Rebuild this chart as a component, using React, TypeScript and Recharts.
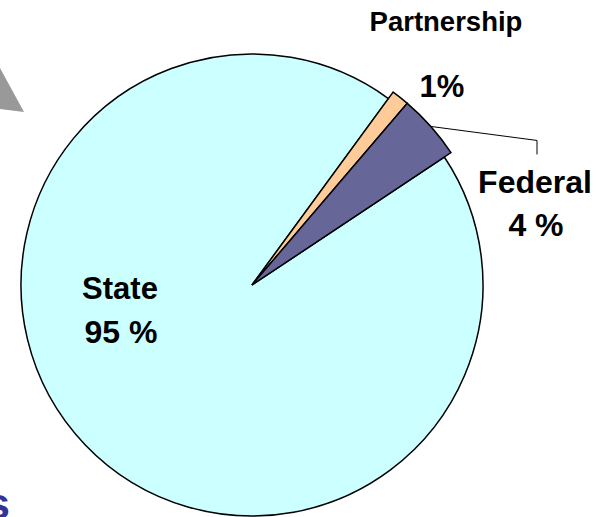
import React from 'react';
import { PieChart, Pie, Cell } from 'recharts';

const categories = ['Partnership', 'Federal', 'State'];
const shares = [1.2, 4.4, 94.4];
const percentLabels = ['1%', '4 %', '95 %'];
const colors = ['#FFCC99', '#666699', '#CCFFFF'];

const data = categories.map((name, i) => ({ name, value: shares[i], pct: percentLabels[i] }));

const FONT = '"Liberation Sans", Arial, Helvetica, sans-serif';

type Layout = { nx: number; ny: number; ns: number; px: number; py: number; ps: number; leader?: boolean };
const layout: Record<string, Layout> = {
  Partnership: { nx: 446, ny: 31, ns: 27.5, px: 442, py: 97, ps: 31 },
  Federal: { nx: 535, ny: 193, ns: 32, px: 536, py: 236, ps: 32, leader: true },
  State: { nx: 120, ny: 299, ns: 31, px: 121, py: 343, ps: 32 },
};

const renderLabel = (props: any) => {
  const { cx, cy, midAngle, outerRadius, name, payload } = props;
  const l = layout[name];
  if (!l) return null;
  const RAD = Math.PI / 180;
  const sx = cx + outerRadius * Math.cos(-midAngle * RAD);
  const sy = cy + outerRadius * Math.sin(-midAngle * RAD);
  return (
    <g key={name}>
      {l.leader && (
        <polyline points={`${sx},${sy} ${l.px + 1},${sy + 14} ${l.px + 1},${sy + 28}`} fill="none" stroke="#000" strokeWidth={1} />
      )}
      <text x={l.nx} y={l.ny} textAnchor="middle" fontFamily={FONT} fontWeight="bold" fontSize={l.ns} fill="#000">
        {name}
      </text>
      <text x={l.px} y={l.py} textAnchor="middle" fontFamily={FONT} fontWeight="bold" fontSize={l.ps} fill="#000">
        {payload?.pct ?? ''}
      </text>
    </g>
  );
};

export default function App() {
  const start = 53.8;
  return (
    <div style={{ position: 'absolute', left: 0, top: 0, width: 612, height: 517, background: '#fff', overflow: 'hidden' }}>
      <svg width={612} height={517} style={{ position: 'absolute', left: 0, top: 0 }}>
        <polygon points="0,68 24,112 0,109" fill="#999999" />
        <text x={10} y={519} textAnchor="end" fontFamily={FONT} fontWeight="bold" fontSize={44} fill="#333399">s</text>
      </svg>
      <div style={{ position: 'absolute', left: 0, top: 0 }}>
        <PieChart width={612} height={517} margin={{ top: 0, right: 0, bottom: 0, left: 0 }}>
          <Pie
            data={data}
            dataKey="value"
            nameKey="name"
            cx={252}
            cy={285}
            outerRadius={231}
            startAngle={start}
            endAngle={start - 360}
            isAnimationActive={false}
            labelLine={false}
          >
            {data.map((d, i) => (
              <Cell
                key={d.name}
                fill={d.name === 'State' ? colors[i] : 'none'}
                stroke={d.name === 'State' ? '#000' : 'none'}
                strokeWidth={1.5}
              />
            ))}
          </Pie>
          <Pie
            data={data}
            dataKey="value"
            nameKey="name"
            cx={252}
            cy={285}
            outerRadius={239}
            startAngle={start}
            endAngle={start - 360}
            isAnimationActive={false}
            labelLine={false}
            label={renderLabel}
          >
            {data.map((d, i) => (
              <Cell
                key={d.name}
                fill={d.name === 'State' ? 'none' : colors[i]}
                stroke={d.name === 'State' ? 'none' : '#000'}
                strokeWidth={1.5}
              />
            ))}
          </Pie>
        </PieChart>
      </div>
    </div>
  );
}
